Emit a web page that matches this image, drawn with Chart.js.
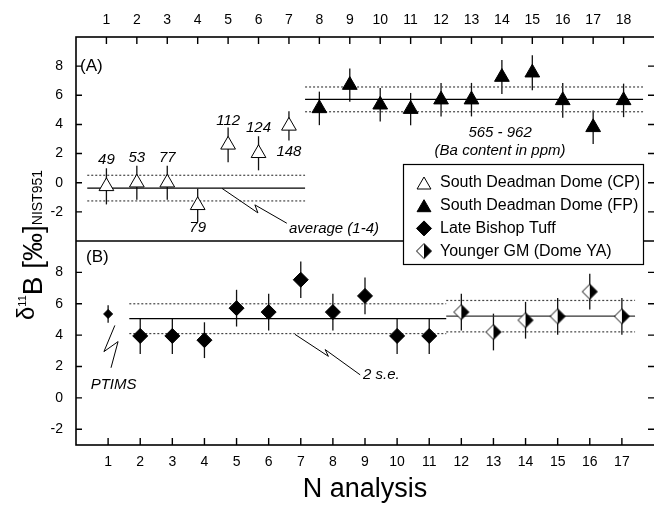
<!DOCTYPE html>
<html><head><meta charset="utf-8">
<script src="https://cdn.jsdelivr.net/npm/chart.js@4/dist/chart.umd.min.js"></script>
<style>html,body{margin:0;padding:0;background:#fff;}#wrap{width:654px;height:506px;}</style>
</head><body><div id="wrap"><canvas id="c" width="654" height="506"></canvas></div>
<script>
const FONT = '"Liberation Sans", Arial, Helvetica, sans-serif';

// ---- tick labels ----
const xTicksA = [1,2,3,4,5,6,7,8,9,10,11,12,13,14,15,16,17,18];
const xTicksB = [1,2,3,4,5,6,7,8,9,10,11,12,13,14,15,16,17];
const yTicks = [-2,0,2,4,6,8];

// ---- panel A: South Deadman Dome ----
const xCP = [1,2,3,4,5,6,7];
const yCP = [-0.25,0.0,0.0,-1.55,2.6,2.02,3.9];
const eCP = [1.24,1.17,1.17,1.14,1.19,1.17,1.0];
const baCP = ['49','53','77','79','112','124','148'];
const baLabelY = [1.59,1.7,1.7,-3.12,4.23,3.77,2.09];

const xFP = [8,9,10,11,12,13,14,15,16,17,18];
const yFP = [5.1,6.7,5.35,5.05,5.7,5.7,7.25,7.55,5.65,3.8,5.65];
const eFP = [1.15,1.14,1.15,1.11,1.15,1.15,1.17,1.2,1.2,1.15,1.15];

// ---- panel B ----
const xLBT = [1,2,3,4,5,6,7,8,9,10,11];
const yLBT = [5.35,3.95,3.95,3.68,5.72,5.47,7.53,5.47,6.5,3.95,3.95];
const eLBT = [0.56,1.15,1.15,1.14,1.17,1.17,1.17,1.17,1.17,1.15,1.15];
const methodLBT = ['PTIMS','MC','MC','MC','MC','MC','MC','MC','MC','MC','MC'];

const xYGM = [12,13,14,15,16,17];
const yYGM = [5.47,4.2,4.95,5.2,6.77,5.2];
const eYGM = [1.17,1.17,1.17,1.17,1.14,1.17];

// ---- group averages (mean ± 2 s.e.) ----
const meanPanel = ['A','A','B','B'];
const meanValue = [-0.37,5.72,5.05,5.21];
const meanSE = [0.88,0.85,0.95,1.0];
const meanFrom = [0.37,7.53,1.66,11.53];
const meanTo = [7.53,18.64,11.53,17.41];

// ---- annotations (data units) ----
const notes = [
  {panel:'A', text:'average (1-4)', x:7.0, y:-3.17, align:'left'},
  {panel:'A', text:'565 - 962', x:13.94, y:3.45, align:'center'},
  {panel:'A', text:'(Ba content in ppm)', x:13.94, y:2.2, align:'center'},
  {panel:'B', text:'PTIMS', x:1.17, y:0.83, align:'center'},
  {panel:'B', text:'2 s.e.', x:8.94, y:1.47, align:'left'}
];
const leaders = [
  {panel:'A', pts:[[4.8,-0.39],[5.98,-2.07],[5.88,-1.52],[6.93,-2.78]]},
  {panel:'B', pts:[[6.82,4.05],[7.86,2.65],[7.76,3.08],[8.85,1.47]]},
  {panel:'B', pts:[[1.21,4.62],[0.87,2.95],[1.31,3.59],[1.09,1.92]]}
];

function halfDiamond(r){
  const s = Math.ceil(2*r+3);
  const c = document.createElement('canvas'); c.width = s; c.height = s;
  const g = c.getContext('2d'); const cx = s/2, cy = s/2;
  g.beginPath(); g.moveTo(cx,cy-r); g.lineTo(cx,cy+r); g.lineTo(cx-r,cy); g.closePath(); g.fillStyle='#fff'; g.fill();
  g.beginPath(); g.moveTo(cx,cy-r); g.lineTo(cx+r,cy); g.lineTo(cx,cy+r); g.closePath(); g.fillStyle='#000'; g.fill();
  g.beginPath(); g.moveTo(cx,cy-r); g.lineTo(cx+r,cy); g.lineTo(cx,cy+r); g.lineTo(cx-r,cy); g.closePath();
  g.lineWidth = 1; g.strokeStyle = '#000'; g.stroke();
  return c;
}
const hd = halfDiamond(7.5);

const pts = (xs, ys) => xs.map((x,i)=>({x:x, y:ys[i]}));

const datasets = [
  {label:'South Deadman Dome (CP)', data:pts(xCP,yCP), err:eCP, xAxisID:'xA', yAxisID:'yA',
   pointStyle:'triangle', pointRadius:8.5, backgroundColor:'#fff', borderColor:'#000', borderWidth:1, showLine:false},
  {label:'South Deadman Dome (FP)', data:pts(xFP,yFP), err:eFP, xAxisID:'xA', yAxisID:'yA',
   pointStyle:'triangle', pointRadius:8.5, backgroundColor:'#000', borderColor:'#000', borderWidth:1, showLine:false},
  {label:'Late Bishop Tuff', data:pts(xLBT,yLBT), err:eLBT, xAxisID:'xB', yAxisID:'yB',
   pointStyle:'rectRot', pointRadius:(c)=> methodLBT[c.dataIndex]==='PTIMS'?4.5:7.5,
   backgroundColor:'#000', borderColor:'#000', borderWidth:1, showLine:false},
  {label:'Younger GM (Dome YA)', data:pts(xYGM,yYGM), err:eYGM, xAxisID:'xB', yAxisID:'yB',
   pointStyle:hd, pointRadius:7.5, backgroundColor:'#000', borderColor:'#000', borderWidth:1, showLine:false}
];
meanValue.forEach((m,i)=>{
  const xa = meanPanel[i]==='A'?'xA':'xB', ya = meanPanel[i]==='A'?'yA':'yB';
  [[m,false],[m+meanSE[i],true],[m-meanSE[i],true]].forEach(([v,dot])=>{
    datasets.push({label:'_mean', data:[{x:meanFrom[i],y:v},{x:meanTo[i],y:v}], xAxisID:xa, yAxisID:ya,
      showLine:true, pointRadius:0, borderColor: dot?'#444':(i===3?'#333':'#000'), borderWidth: dot?1.2:1.3,
      borderDash: dot?[2,2]:[], fill:false});
  });
});

const tickFont = {family:FONT, size:14};
const noPad = s => { s.paddingLeft = 0; s.paddingRight = 0; s.paddingTop = 0; s.paddingBottom = 0; };

const decor = {
  id:'decor',
  beforeDatasetsDraw(chart){
    const ctx = chart.ctx;
    ctx.save(); ctx.strokeStyle='#111'; ctx.lineWidth=1.3;
    chart.data.datasets.forEach(ds=>{
      if(!ds.err) return;
      const xs = chart.scales[ds.xAxisID], ys = chart.scales[ds.yAxisID];
      ds.data.forEach((p,j)=>{
        const px = xs.getPixelForValue(p.x);
        ctx.beginPath();
        ctx.moveTo(px, ys.getPixelForValue(p.y+ds.err[j]));
        ctx.lineTo(px, ys.getPixelForValue(p.y-ds.err[j]));
        ctx.stroke();
      });
    });
    ctx.restore();
  },
  afterDraw(chart){
    const ctx = chart.ctx, ca = chart.chartArea, S = chart.scales;
    ctx.save();
    ctx.strokeStyle='#000'; ctx.lineWidth=1.6;
    ctx.strokeRect(ca.left, ca.top, ca.right-ca.left+2, ca.bottom-ca.top);
    ctx.beginPath(); ctx.moveTo(ca.left, S.yA.bottom); ctx.lineTo(ca.right, S.yA.bottom); ctx.stroke();
    // inward tick marks
    ctx.lineWidth=1.4;
    ctx.beginPath();
    S.xA.ticks.forEach(t=>{const p=S.xA.getPixelForValue(t.value); ctx.moveTo(p,ca.top); ctx.lineTo(p,ca.top+7);});
    S.xB.ticks.forEach(t=>{const p=S.xB.getPixelForValue(t.value); ctx.moveTo(p,ca.bottom); ctx.lineTo(p,ca.bottom-7);});
    ['yA','yB'].forEach(id=>{
      S[id].ticks.forEach(t=>{const p=S[id].getPixelForValue(t.value);
        ctx.moveTo(ca.left,p); ctx.lineTo(ca.left+6,p);
        ctx.moveTo(ca.right,p); ctx.lineTo(ca.right-6,p);});
    });
    ctx.stroke();
    // leader lines
    ctx.lineWidth=1; ctx.strokeStyle='#000';
    leaders.forEach(l=>{
      const xs = S[l.panel==='A'?'xA':'xB'], ys = S[l.panel==='A'?'yA':'yB'];
      ctx.beginPath();
      l.pts.forEach((q,k)=>{const X=xs.getPixelForValue(q[0]), Y=ys.getPixelForValue(q[1]); k?ctx.lineTo(X,Y):ctx.moveTo(X,Y);});
      ctx.stroke();
    });
    // Ba labels
    ctx.fillStyle='#000'; ctx.textBaseline='middle';
    ctx.font = 'italic 15px '+FONT; ctx.textAlign='center';
    baCP.forEach((t,i)=>{ctx.fillText(t, S.xA.getPixelForValue(xCP[i]), S.yA.getPixelForValue(baLabelY[i]));});
    notes.forEach(n=>{
      const xs = S[n.panel==='A'?'xA':'xB'], ys = S[n.panel==='A'?'yA':'yB'];
      ctx.textAlign = n.align;
      ctx.fillText(n.text, xs.getPixelForValue(n.x), ys.getPixelForValue(n.y));
    });
    // panel letters
    ctx.font = '17px '+FONT; ctx.textAlign='left';
    ctx.fillText('(A)', ca.left+4, S.yA.getPixelForValue(8));
    ctx.fillText('(B)', ca.left+10, S.yB.getPixelForValue(8.97));
    // legend box
    const lx = 403, ly = 164, lw = 240, lh = 100;
    ctx.fillStyle='#fff'; ctx.fillRect(lx, ly, lw, lh);
    ctx.strokeStyle='#000'; ctx.lineWidth=1.2; ctx.strokeRect(lx+0.5, ly+0.5, lw, lh);
    ctx.font = '16px '+FONT; ctx.textAlign='left'; ctx.textBaseline='middle';
    [0,1,2,3].forEach(i=>{
      const ds = chart.data.datasets[i];
      const y = ly + 19 + i*22.7, x = lx + 21;
      ctx.fillStyle = ds.backgroundColor; ctx.strokeStyle='#000'; ctx.lineWidth=1;
      const r = i<2 ? 8 : 7.5;
      if (Chart.helpers && Chart.helpers.drawPoint) {
        Chart.helpers.drawPoint(ctx, {pointStyle: ds.pointStyle, radius:r, borderWidth:1, rotation:0}, x, i<2? y+2 : y);
      }
      ctx.fillStyle='#000';
      ctx.fillText(ds.label, lx+37, y);
    });
    // y title
    ctx.translate(42, 245); ctx.rotate(-Math.PI/2);
    ctx.textAlign='left'; ctx.textBaseline='alphabetic'; ctx.fillStyle='#000';
    const runs = [
      {t:'\u03B4', f:'24px', dy:-8},
      {t:'11', f:'11px', dy:-16},
      {t:'B [\u2030]', f:'28px', dy:0},
      {t:'NIST951', f:'14px', dy:0}
    ];
    let total = 0;
    runs.forEach(r=>{ctx.font = r.f+' '+FONT; r.w = ctx.measureText(r.t).width; total += r.w;});
    let x0 = -total/2;
    runs.forEach(r=>{ctx.font = r.f+' '+FONT; ctx.fillText(r.t, x0, r.dy); x0 += r.w;});
    ctx.restore();
  }
};

new Chart(document.getElementById('c'), {
  type:'scatter',
  data:{datasets:datasets},
  plugins:[decor],
  options:{
    responsive:false, animation:false, devicePixelRatio:1,
    layout:{padding:0, autoPadding:false},
    plugins:{legend:{display:false}, tooltip:{enabled:false}, title:{display:false}},
    scales:{
      xA:{type:'linear', position:'top', min:0, max:19,
        afterBuildTicks:s=>{s.ticks = xTicksA.map(v=>({value:v}));},
        afterFit:s=>{s.height=37; noPad(s);},
        grid:{display:false}, border:{display:false},
        ticks:{font:tickFont, color:'#000', padding:0, maxRotation:0, autoSkip:false}},
      xB:{type:'linear', position:'bottom', min:0, max:18,
        afterBuildTicks:s=>{s.ticks = xTicksB.map(v=>({value:v}));},
        afterFit:s=>{s.height=61; noPad(s);},
        grid:{display:false}, border:{display:false},
        ticks:{font:tickFont, color:'#000', padding:1, maxRotation:0, autoSkip:false},
        title:{display:true, text:'N analysis', color:'#000', font:{family:FONT, size:27}, padding:{top:0,bottom:0}}},
      yA:{type:'linear', position:'left', stack:'y', stackWeight:1, weight:2, min:-4, max:10,
        afterBuildTicks:s=>{s.ticks = yTicks.map(v=>({value:v}));},
        afterFit:s=>{s.width=76; noPad(s);},
        grid:{display:false}, border:{display:false},
        ticks:{font:tickFont, color:'#000', padding:5}},
      yB:{type:'linear', position:'left', stack:'y', stackWeight:1, weight:1, min:-3, max:10,
        afterBuildTicks:s=>{s.ticks = yTicks.map(v=>({value:v}));},
        afterFit:s=>{s.width=76; noPad(s);},
        grid:{display:false}, border:{display:false},
        ticks:{font:tickFont, color:'#000', padding:5}}
    }
  }
});
</script></body></html>
